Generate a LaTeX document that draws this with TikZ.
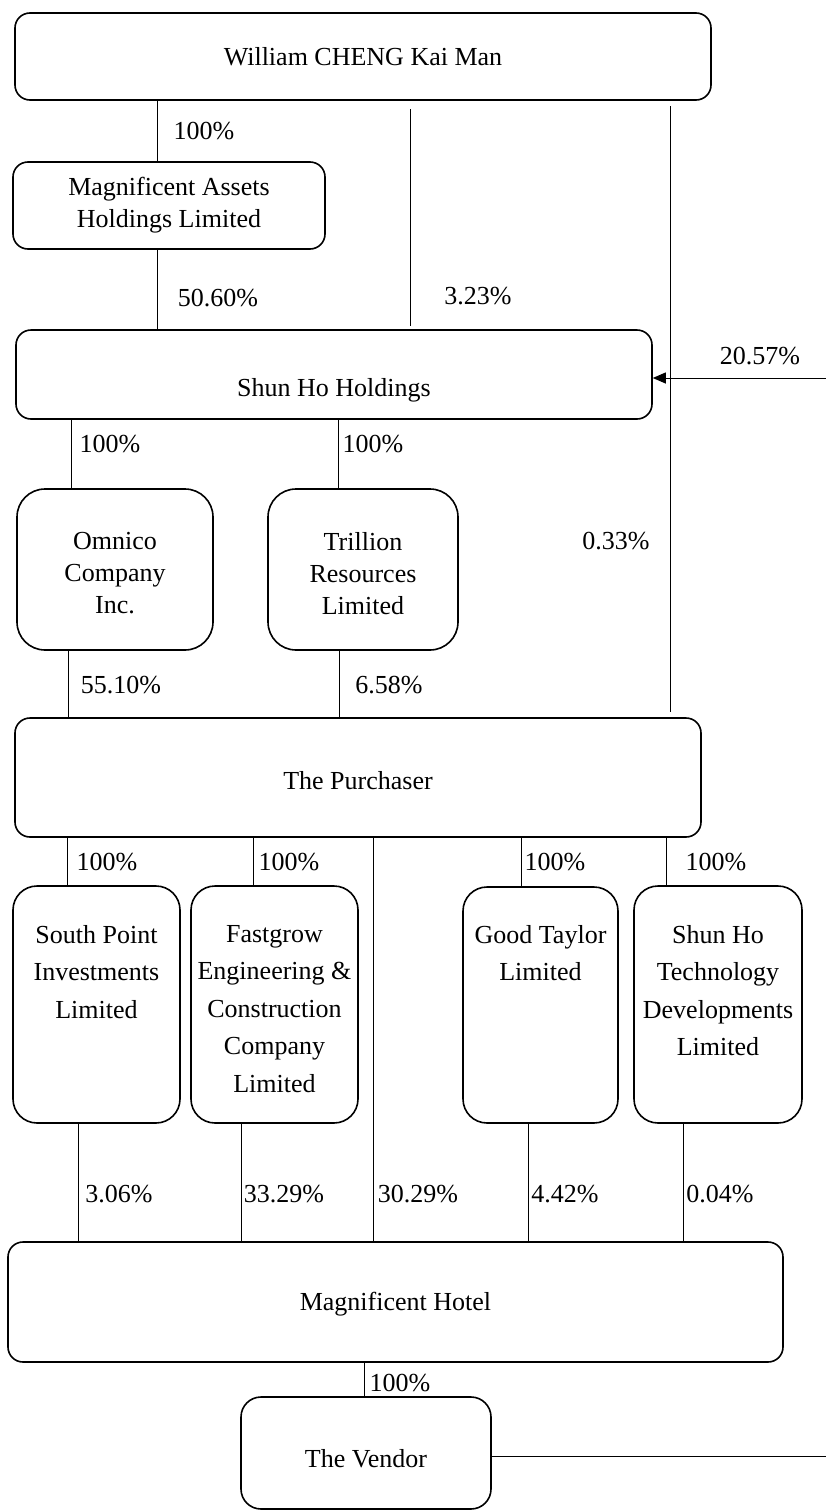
\documentclass[tikz,border=0pt]{standalone}
\usepackage{fontspec}
\setmainfont{Liberation Serif}
\usetikzlibrary{positioning,arrows.meta}

\begin{document}
\begin{tikzpicture}[x=1pt,y=-1pt,
    every node/.style={font=\fontsize{26}{32}\selectfont},
    box/.style={draw, line width=1.6pt, rounded corners=#1, inner sep=0pt, align=center},
    box/.default=15pt,
    boxtext/.style={inner sep=0pt, align=center, font=\fontsize{26}{37.5}\selectfont},
    pct/.style={inner sep=0pt},
    link/.style={line width=1pt}]
        \useasboundingbox (0,0) rectangle (826,1510);
        % Actionnaire principal
        \node[box, minimum width=696, minimum height=87] (will) at (363,56.5) {William CHENG Kai Man};
        \node[box, minimum width=312, minimum height=87] (mass) at (169,205.5) {Magnificent Assets\\Holdings Limited};
        % Shun Ho Holdings et filiales
        \node[box, minimum width=636, minimum height=89] (shun) at (334,374.5) {};
        \node[boxtext, yshift=-16pt] (shunT) at (shun) {Shun Ho Holdings};
        \node[box=28pt, minimum width=196, minimum height=161] (omni) at (115,569.5) {};
        \node[box=28pt, minimum width=190, minimum height=161] (tril) at (363,569.5) {};
        \node[inner sep=0pt, align=center, yshift=-4pt] (omniT) at (omni) {Omnico\\Company\\Inc.};
        \node[inner sep=0pt, align=center, yshift=-4pt] (trilT) at (tril) {Trillion\\Resources\\Limited};
        % Acheteur
        \node[box, minimum width=686, minimum height=119] (purch) at (358,777.5) {};
        \node[boxtext, yshift=-3pt] (purchT) at (purch) {The Purchaser};
        % Filiales de l'acheteur (texte en haut)
        \node[box=24pt, minimum width=167, minimum height=237] (south) at (96.5,1004.5) {};
        \node[box=24pt, minimum width=167, minimum height=237] (fast) at (274.5,1004.5) {};
        \node[box=24pt, minimum width=155, minimum height=236] (good) at (540.5,1005) {};
        \node[box=24pt, minimum width=168, minimum height=237] (tech) at (718,1004.5) {};
        \node[boxtext, below=40pt of south.north] (southT) {South Point\\Investments\\Limited};
        \node[boxtext, below=40pt of fast.north] (fastT) {Fastgrow\\Engineering \&\\Construction\\Company\\Limited};
        \node[boxtext, below=39pt of good.north] (goodT) {Good Taylor\\Limited};
        \node[boxtext, below=40pt of tech.north] (techT) {Shun Ho\\Technology\\Developments\\Limited};
        % Hotel et vendeur
        \node[box, minimum width=775, minimum height=120] (hotel) at (395.5,1302) {};
        \node[boxtext, yshift=-2pt] (hotelT) at (hotel) {Magnificent Hotel};
        \node[box=20pt, minimum width=250, minimum height=112] (vend) at (366,1453) {};
        \node[boxtext, yshift=-6pt] (vendT) at (vend) {The Vendor};

        % Extremites libres
        \coordinate (wA) at (410,109);
        \coordinate (wB) at (410,326);
        \coordinate (wC) at (670,106);
        \coordinate (wD) at (670,712);
        \coordinate (outR) at (826,378);
        \coordinate (outV) at (826,1456);

        % Liens depuis William CHENG
        \draw[link] (will.south -| 157,0) -- (mass.north -| 157,0);
        \draw[link] (wA) -- (wB);
        \draw[link] (wC) -- (wD);
        \draw[link] (mass.south -| 157,0) -- (shun.north -| 157,0);
        \draw[link, -{Triangle[length=13pt,width=11pt]}] (outR) -- (outR -| shun.east);
        % Liens Shun Ho Holdings
        \draw[link] (shun.south -| 71,0) -- (omni.north -| 71,0);
        \draw[link] (shun.south -| 338,0) -- (tril.north -| 338,0);
        \draw[link] (omni.south -| 68,0) -- (purch.north -| 68,0);
        \draw[link] (tril.south -| 339,0) -- (purch.north -| 339,0);
        % Liens de l'acheteur
        \draw[link] (purch.south -| 67,0) -- (south.north -| 67,0);
        \draw[link] (purch.south -| 253,0) -- (fast.north -| 253,0);
        \draw[link] (purch.south -| 373,0) -- (hotel.north -| 373,0);
        \draw[link] (purch.south -| 521,0) -- (good.north -| 521,0);
        \draw[link] (purch.south -| 666,0) -- (tech.north -| 666,0);
        % Liens vers l'hotel
        \draw[link] (south.south -| 78,0) -- (hotel.north -| 78,0);
        \draw[link] (fast.south -| 241,0) -- (hotel.north -| 241,0);
        \draw[link] (good.south -| 528,0) -- (hotel.north -| 528,0);
        \draw[link] (tech.south -| 683,0) -- (hotel.north -| 683,0);
        \draw[link] (hotel.south -| 364,0) -- (vend.north -| 364,0);
        \draw[link] (vend.east |- outV) -- (outV);

        % Pourcentages
        \node[pct] (p1) at (204,131) {100\%};
        \node[pct] (p2) at (478,296) {3.23\%};
        \node[pct] (p3) at (218,298) {50.60\%};
        \node[pct] (p4) at (760,356) {20.57\%};
        \node[pct] (p5) at (110,444) {100\%};
        \node[pct] (p6) at (373,444) {100\%};
        \node[pct] (p7) at (616,541) {0.33\%};
        \node[pct] (p8) at (121,685) {55.10\%};
        \node[pct] (p9) at (389,685) {6.58\%};
        \node[pct] (p10) at (107,862) {100\%};
        \node[pct] (p11) at (289,862) {100\%};
        \node[pct] (p12) at (555,862) {100\%};
        \node[pct] (p13) at (716,862) {100\%};
        \node[pct] (p14) at (119,1194) {3.06\%};
        \node[pct] (p15) at (284,1194) {33.29\%};
        \node[pct] (p16) at (418,1194) {30.29\%};
        \node[pct] (p17) at (565,1194) {4.42\%};
        \node[pct] (p18) at (720,1194) {0.04\%};
        \node[pct] (p19) at (400,1383) {100\%};
    \end{tikzpicture}
\end{document}
